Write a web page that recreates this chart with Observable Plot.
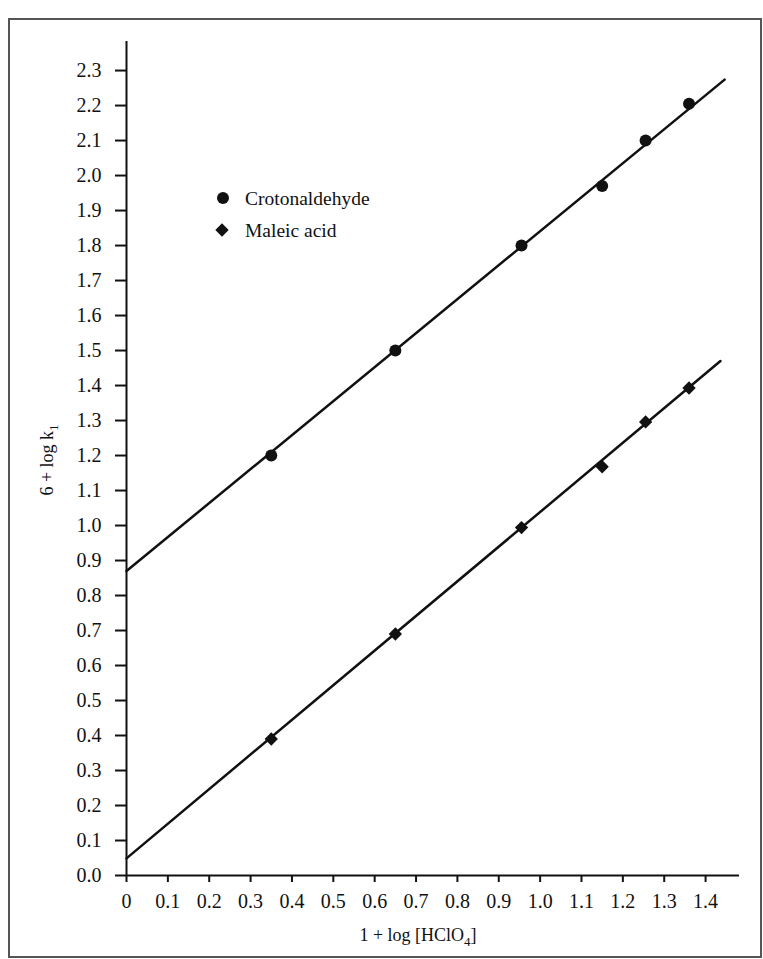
<!DOCTYPE html>
<html>
<head>
<meta charset="utf-8">
<script src="https://cdn.jsdelivr.net/npm/d3@7"></script>
<script src="https://cdn.jsdelivr.net/npm/@observablehq/plot@0.6"></script>
<style>
html, body { margin: 0; padding: 0; background: #fff; }
#wrap { position: relative; width: 763px; height: 959px; overflow: hidden; background: #fff; }
#frame { position: absolute; left: 8px; top: 18px; width: 754px; height: 940px; border: 2px solid #555; box-sizing: border-box; }
#chart { position: absolute; left: 0; top: 0; }
#chart svg text { font-family: "Liberation Serif", "Times New Roman", serif; }
</style>
</head>
<body>
<div id="wrap"><div id="frame"></div><div id="chart"></div></div>
<script>
// ---- data ----
const xTickValues = [0, 0.1, 0.2, 0.3, 0.4, 0.5, 0.6, 0.7, 0.8, 0.9, 1.0, 1.1, 1.2, 1.3, 1.4];
const yTickValues = [0, 0.1, 0.2, 0.3, 0.4, 0.5, 0.6, 0.7, 0.8, 0.9, 1.0, 1.1, 1.2, 1.3, 1.4, 1.5, 1.6, 1.7, 1.8, 1.9, 2.0, 2.1, 2.2, 2.3];
const logHClO4 = [0.35, 0.65, 0.955, 1.15, 1.255, 1.36];
const crotonaldehyde = [1.20, 1.50, 1.80, 1.97, 2.10, 2.205];
const maleicAcid = [0.39, 0.69, 0.994, 1.168, 1.296, 1.393];
const crotonFitX = [0, 1.446];
const crotonFitY = [0.87, 2.274];
const maleicFitX = [0, 1.436];
const maleicFitY = [0.049, 1.47];
const seriesNames = ["Crotonaldehyde", "Maleic acid"];

const crotonPts = logHClO4.map((x, i) => ({x, y: crotonaldehyde[i]}));
const maleicPts = logHClO4.map((x, i) => ({x, y: maleicAcid[i]}));
const crotonFit = crotonFitX.map((x, i) => ({x, y: crotonFitY[i]}));
const maleicFit = maleicFitX.map((x, i) => ({x, y: maleicFitY[i]}));

const FONT = "Liberation Serif, Times New Roman, serif";
const INK = "#111";
const FS = 20;

const chart = Plot.plot({
  width: 763, height: 959,
  marginLeft: 126, marginRight: 24, marginTop: 41, marginBottom: 84,
  x: {domain: [0, 1.482]},
  y: {domain: [0, 2.383]},
  style: {fontFamily: FONT, fontSize: FS + "px", color: INK, background: "transparent"},
  marks: [
    Plot.axisY(yTickValues, {tickSize: 11, tickPadding: 14, strokeWidth: 2, fontSize: FS, tickFormat: d3.format(".1f"), label: null}),
    Plot.axisX(xTickValues, {tickSize: 7, tickPadding: 11, strokeWidth: 2, fontSize: FS, tickFormat: d => d === 0 ? "0" : d3.format(".1f")(d), label: null}),
    Plot.ruleX([0], {strokeWidth: 2, stroke: INK}),
    Plot.ruleY([0], {strokeWidth: 2, stroke: INK}),
    Plot.line(crotonFit, {x: "x", y: "y", stroke: INK, strokeWidth: 2.5}),
    Plot.line(maleicFit, {x: "x", y: "y", stroke: INK, strokeWidth: 2.5}),
    Plot.dot(crotonPts, {x: "x", y: "y", r: 6, fill: INK, symbol: "circle"}),
    Plot.dot(maleicPts, {x: "x", y: "y", r: 6, fill: INK, symbol: "diamond2"})
  ]
});
document.getElementById("chart").appendChild(chart);

const svg = d3.select(chart);
svg.selectAll("g[aria-label$='tick label']").attr("font-size", FS).style("font-size", FS + "px");
svg.selectAll("g[aria-label$='tick label'] text").attr("font-size", FS).style("font-size", FS + "px");

// axis titles with subscripts
const xl = svg.append("text").attr("x", 418).attr("y", 941).attr("text-anchor", "middle").attr("fill", INK).style("font-size", "18px");
xl.append("tspan").text("1 + log [HClO");
xl.append("tspan").style("font-size", "13px").attr("dy", 5).text("4");
xl.append("tspan").attr("dy", -5).text("]");

const yl = svg.append("text").attr("transform", "translate(53,460) rotate(-90)").attr("text-anchor", "middle").attr("fill", INK).style("font-size", "18px");
yl.append("tspan").text("6 + log k");
yl.append("tspan").style("font-size", "13px").attr("dy", 5).text("1");

// legend
const lg = svg.append("g").attr("fill", INK);
lg.append("circle").attr("cx", 223).attr("cy", 198).attr("r", 6).attr("fill", INK);
lg.append("text").attr("x", 245).attr("y", 205).attr("text-anchor", "start").style("font-size", "19.5px").text(seriesNames[0]);
lg.append("path").attr("d", d3.symbol(d3.symbolDiamond2, Math.PI * 36)()).attr("transform", "translate(222,230)").attr("fill", INK);
lg.append("text").attr("x", 245).attr("y", 237).attr("text-anchor", "start").style("font-size", "19.5px").text(seriesNames[1]);
</script>
</body>
</html>
